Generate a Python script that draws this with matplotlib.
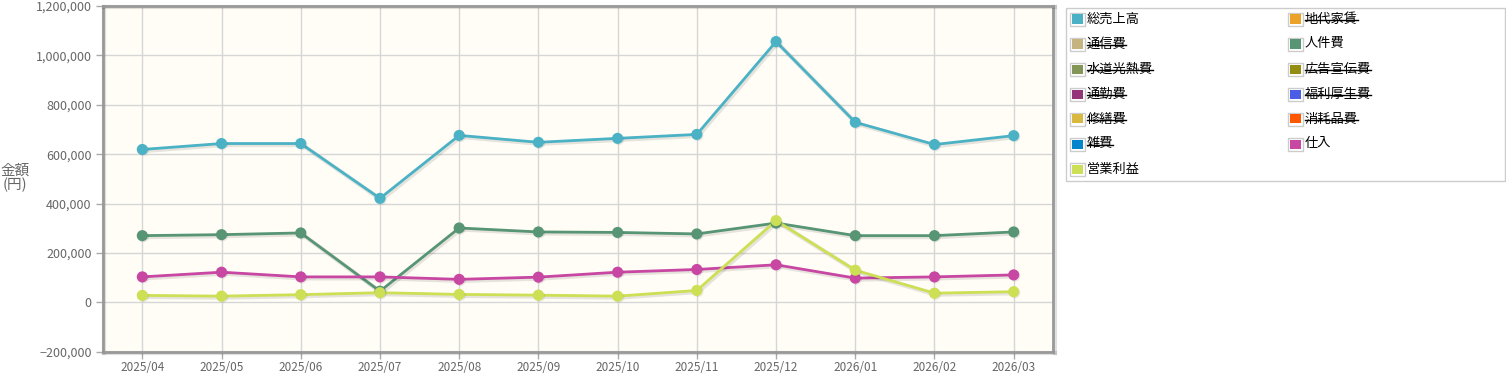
import matplotlib
matplotlib.use("Agg")
import matplotlib.pyplot as plt
import matplotlib.patheffects as pe
from matplotlib.ticker import FuncFormatter, MultipleLocator
from matplotlib.patches import Rectangle

plt.rcParams['font.family'] = ['Noto Sans CJK JP', 'DejaVu Sans']

months = ["2025/04", "2025/05", "2025/06", "2025/07", "2025/08", "2025/09",
          "2025/10", "2025/11", "2025/12", "2026/01", "2026/02", "2026/03"]

sales = [619000, 643000, 643000, 421000, 676000, 648000, 664000, 680000, 1056000, 729000, 639000, 675000]
personnel = [270000, 274000, 281000, 45000, 301000, 285000, 283000, 277000, 321000, 270000, 270000, 285000]
purchase = [103000, 122000, 103000, 103000, 93000, 102000, 122000, 133000, 152000, 98000, 103000, 111000]
profit = [28000, 25000, 31000, 39000, 32000, 29000, 25000, 48000, 331000, 130000, 37000, 43000]

# legend entries: (label, colour, visible)
legend_items = [
    ("総売上高", "#4bb2c5", True), ("地代家賃", "#eaa228", False),
    ("通信費", "#c5b47f", False), ("人件費", "#579575", True),
    ("水道光熱費", "#839557", False), ("広告宣伝費", "#958c12", False),
    ("通勤費", "#953579", False), ("福利厚生費", "#4b5de4", False),
    ("修繕費", "#d8b83f", False), ("消耗品費", "#ff5800", False),
    ("雑費", "#0085cc", False), ("仕入", "#c747a3", True),
    ("営業利益", "#cddf54", True),
]

series = [(sales, "#4bb2c5"), (personnel, "#579575"), (purchase, "#c747a3"), (profit, "#cddf54")]

W, H = 1506, 375
fig = plt.figure(figsize=(W / 100, H / 100), dpi=100)
ax = fig.add_axes([102.7 / W, (H - 351.7) / H, 950.6 / W, 345.7 / H])
ax.set_facecolor("#fffdf6")

x = list(range(len(months)))
line_shadow = [pe.SimpleLineShadow(offset=(1.0, -1.0), alpha=0.10, linewidth=3.2), pe.Normal()]
mark_shadow = [pe.SimplePatchShadow(offset=(0.8, -0.8), alpha=0.10), pe.Normal()]
for vals, col in series:
    ax.plot(x, vals, color=col, lw=2.0, path_effects=line_shadow, zorder=3, solid_joinstyle='round')
    ax.plot(x, vals, ls='none', marker='o', ms=8, mec=col, mfc=col, mew=0,
            path_effects=mark_shadow, zorder=4)

ax.set_xlim(-0.5, len(months) - 0.5)
ax.set_ylim(-200000, 1200000)
ax.yaxis.set_major_locator(MultipleLocator(200000))
ax.yaxis.set_major_formatter(FuncFormatter(lambda v, p: f"{int(v):,}".replace("-", "\u2212")))
ax.set_xticks(x)
ax.set_xticklabels(months)
ax.grid(True, color="#d6d6d6", lw=1.0, zorder=0)
ax.set_axisbelow(True)
ax.tick_params(axis='both', colors="#aaaaaa", labelcolor="#666666", labelsize=9, length=5, width=1)
ax.tick_params(axis='x', pad=2, labelsize=8.5)
ax.tick_params(axis='y', pad=3)
for s in ax.spines.values():
    s.set_color("#999999")
    s.set_linewidth(2)
    s.set_path_effects([pe.SimpleLineShadow(offset=(1, -1), alpha=0.12, linewidth=3), pe.Normal()])

fig.text(15 / W, 1 - 178 / H, "金額\n(円)", ha='center', va='center', fontsize=10.5, color="#666666",
         linespacing=0.95)

# manual legend
def px(xp, yp):
    return xp / W, 1 - yp / H

lx0, ly0, lx1, ly1 = 1066, 8, 1505, 180.5
fig.patches.append(Rectangle(px(lx0, ly1), (lx1 - lx0) / W, (ly1 - ly0) / H,
                             transform=fig.transFigure, fill=False, ec="#cccccc", lw=1))
texts = []
for i, (lab, col, vis) in enumerate(legend_items):
    colx = 1069.5 if i % 2 == 0 else 1287.5
    yc = 19 + 25 * (i // 2)
    fig.patches.append(Rectangle(px(colx, yc + 6.5), 15 / W, 13 / H, transform=fig.transFigure,
                                 fc="white", ec="#cccccc", lw=1))
    fig.patches.append(Rectangle(px(colx + 2, yc + 4.5), 11 / W, 9 / H, transform=fig.transFigure,
                                 fc=col, ec='none'))
    t = fig.text(*px(colx + 17, yc), lab, ha='left', va='center', fontsize=9.5, color="black")
    texts.append((t, vis, yc))

fig.canvas.draw()
r = fig.canvas.get_renderer()
for t, vis, yc in texts:
    if not vis:
        bb = t.get_window_extent(r)
        fig.add_artist(plt.Line2D([bb.x0 / W, bb.x1 / W], [(H - yc - 1) / H] * 2,
                                  transform=fig.transFigure, color="black", lw=1))

fig.savefig("out.png", dpi=100)
